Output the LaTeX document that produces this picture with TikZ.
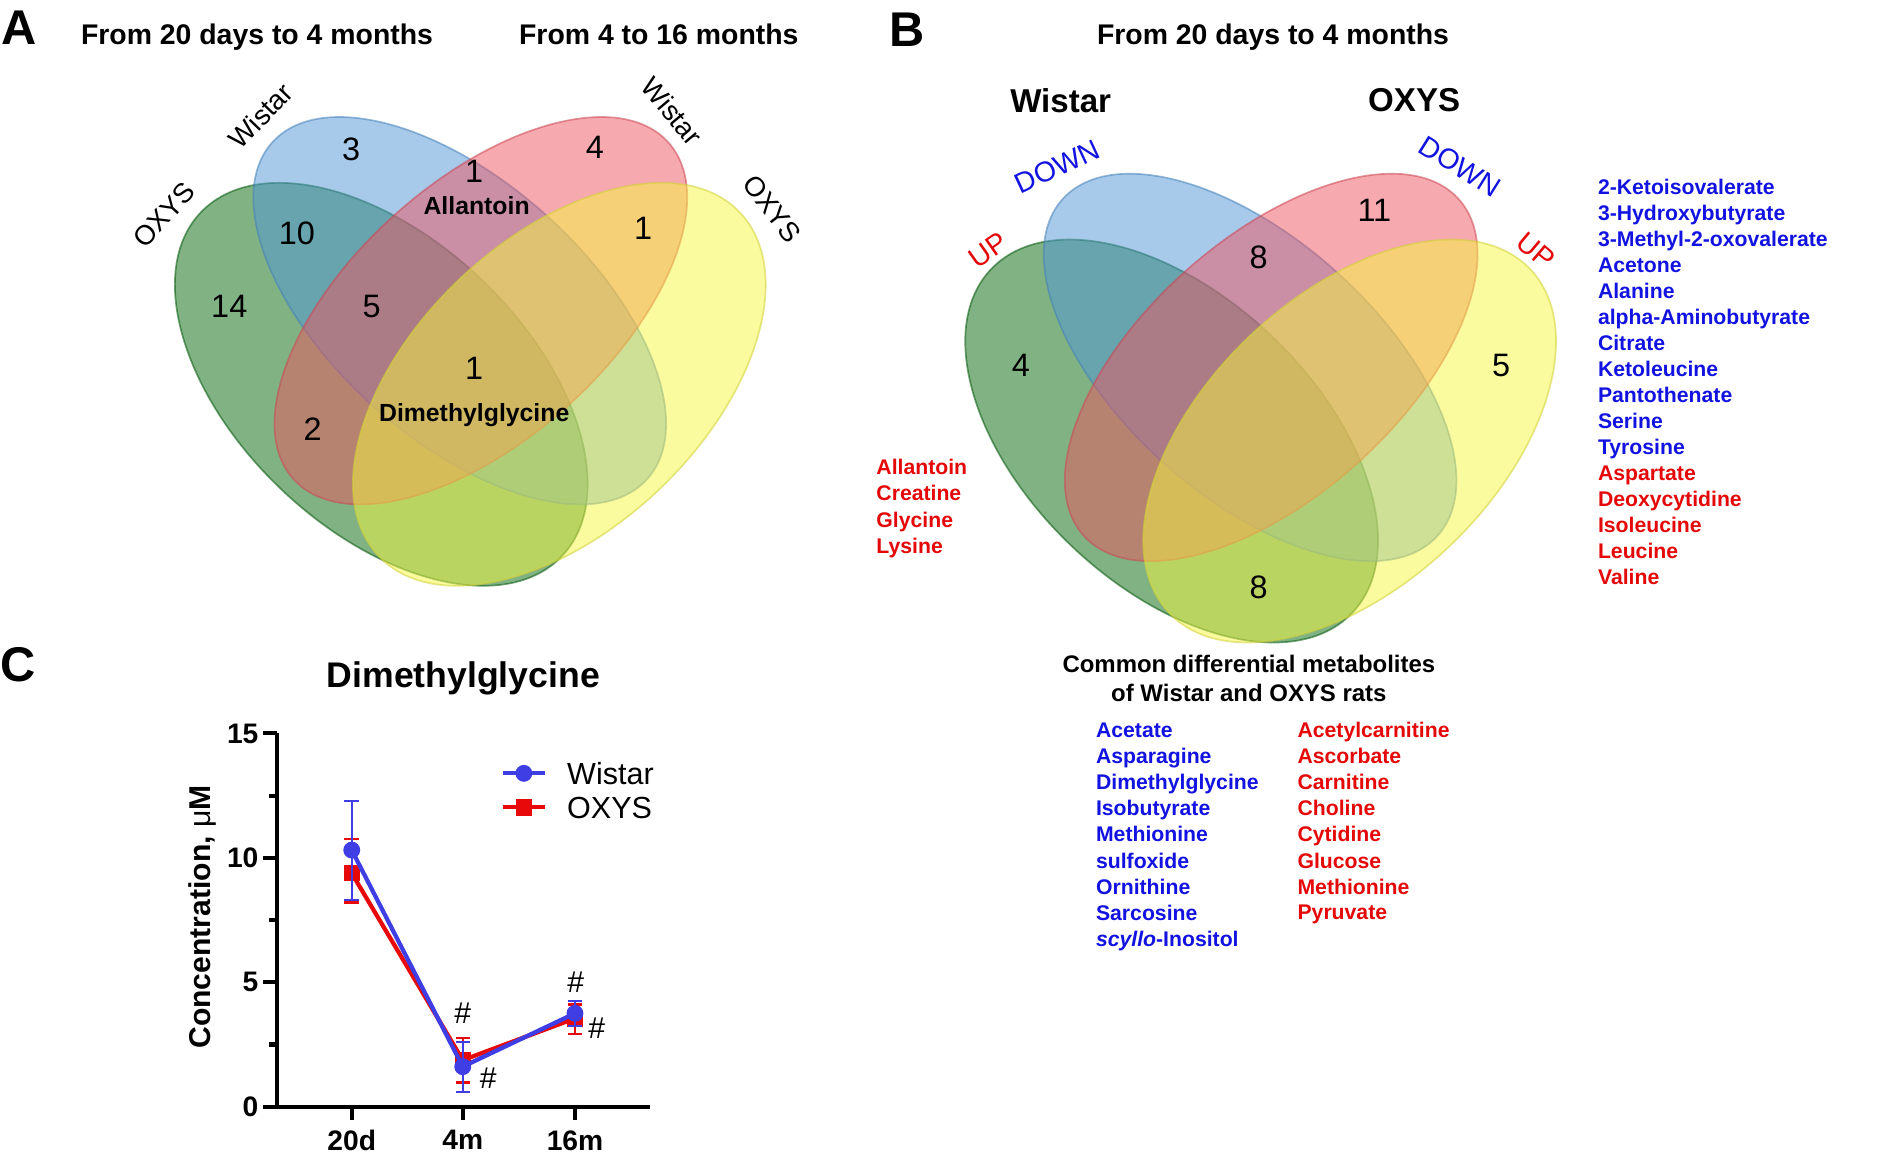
\documentclass[tikz,border=0pt]{standalone}
\usepackage{fontspec}
\setmainfont{Liberation Sans}
\usetikzlibrary{positioning, calc}

\definecolor{setblue}{RGB}{80,150,215}
\definecolor{setred}{RGB}{238,84,96}
\definecolor{setgreen}{RGB}{2,102,10}
\definecolor{setyellow}{RGB}{246,246,64}
\definecolor{upred}{RGB}{228,8,8}
\definecolor{downblue}{RGB}{18,18,225}
\definecolor{wistarblue}{RGB}{62,62,228}
\definecolor{oxysred}{RGB}{232,10,10}

\begin{document}
\begin{tikzpicture}[
    x=0.02cm, y=-0.02cm,
    every node/.style={inner sep=0pt, text depth=0pt},
    letter/.style={font=\fontsize{23}{25}\selectfont\bfseries}, % panel letters
    head/.style={font=\fontsize{13.4}{15}\selectfont\bfseries},
    setname/.style={font=\fontsize{13}{15}\selectfont},
    count/.style={font=\fontsize{15.3}{17}\selectfont},
    shared/.style={font=\fontsize{11.7}{13}\selectfont\bfseries},
    strain/.style={font=\fontsize{15.6}{17}\selectfont\bfseries},
    trend/.style={font=\fontsize{13.4}{15}\selectfont},
    metab/.style={font=\fontsize{10}{12}\selectfont\bfseries, anchor=west},
    vset/.style={fill=#1, fill opacity=0.5, draw=#1!85!black, draw opacity=0.55, line width=0.8pt}, % one Venn set
    axis/.style={line width=1.9pt},
    ticklab/.style={font=\fontsize{13.3}{15}\selectfont\bfseries},
    errbar/.style={draw=#1, line width=1.1pt},
    series/.style={draw=#1, line width=2pt, line join=round},
    dotmark/.style={circle, fill=#1, minimum size=0.28cm},
    boxmark/.style={rectangle, fill=#1, minimum size=0.27cm},
    hash/.style={font=\fontsize{14.2}{16}\selectfont}
]
    \useasboundingbox (0,0) rectangle (1568,963);

    % === Venn ellipses (panel A, then the same four shifted for panel B) ===
    \foreach \dx/\dy in {0/0, 655/47} {
        \begin{scope}[shift={(\dx,\dy)}]
            \path[vset=setgreen, shift={(316,318.5)}, rotate=-43.6] (0,0) ellipse [x radius=206.6, y radius=120.2];
            \path[vset=setblue, shift={(381,257.5)}, rotate=-41.9] (0,0) ellipse [x radius=208.8, y radius=106.8];
            \path[vset=setred, shift={(398.5,257.5)}, rotate=41.9] (0,0) ellipse [x radius=208.8, y radius=106.8];
            \path[vset=setyellow, shift={(463.5,318.5)}, rotate=43.6] (0,0) ellipse [x radius=206.6, y radius=120.2];
        \end{scope}
    }

    % === Panel A ===
    \node[letter] (lettA) at (16,23) {A};
    \node[head] (headA1) at (213,28) {From 20 days to 4 months};
    \node[head] (headA2) at (546,28) {From 4 to 16 months};
    \node[setname, rotate=46] (wisA1) at (216,96) {Wistar};
    \node[setname, rotate=48] (oxyA1) at (136,178) {OXYS};
    \node[setname, rotate=-50] (wisA2) at (557,92) {Wistar};
    \node[setname, rotate=-52] (oxyA2) at (640,173) {OXYS};
    \foreach \px/\py/\n [count=\i] in {291/124/3, 393/142/1, 493/122/4, 246/193/10, 533/189/1, 190/254/14, 308/254/5, 393/305/1, 259/356/2}
        \node[count] (cntA\i) at (\px,\py) {\n};
    \node[shared] (allA) at (395,170) {Allantoin};
    \node[shared] (dmgA) at (393,342) {Dimethylglycine};

    % === Panel B ===
    \node[letter] (lettB) at (752,25) {B};
    \node[head] (headB) at (1055,28) {From 20 days to 4 months};
    \node[strain] (wisB) at (879,83) {Wistar};
    \node[strain] (oxyB) at (1172,83) {OXYS};
    \node[trend, downblue, rotate=25] (downB1) at (876,138) {DOWN};
    \node[trend, downblue, rotate=-32] (downB2) at (1210,138) {DOWN};
    \node[trend, upred, rotate=35] (upB1) at (819,207) {UP};
    \node[trend, upred, rotate=-40] (upB2) at (1273,208) {UP};
    \foreach \px/\py/\n [count=\i] in {1139/174/11, 1043/213/8, 846/303/4, 1244/303/5, 1043/487/8}
        \node[count] (cntB\i) at (\px,\py) {\n};

    % metabolite lists
    \foreach \m [count=\i] in {Allantoin, Creatine, Glycine, Lysine}
        \node[metab, upred] (upL\i) at (726,365.2+21.8*\i) {\m};
    \foreach \m/\c [count=\i] in {2-Ketoisovalerate/downblue, 3-Hydroxybutyrate/downblue,
        3-Methyl-2-oxovalerate/downblue, Acetone/downblue, Alanine/downblue,
        alpha-Aminobutyrate/downblue, Citrate/downblue, Ketoleucine/downblue,
        Pantothenate/downblue, Serine/downblue, Tyrosine/downblue, Aspartate/upred,
        Deoxycytidine/upred, Isoleucine/upred, Leucine/upred, Valine/upred}
        \node[metab, text=\c] (sideR\i) at (1324,133.47+21.53*\i) {\m};

    \node[font=\fontsize{11.3}{13}\selectfont\bfseries] (common1) at (1035,550) {Common differential metabolites};
    \node[font=\fontsize{11.3}{13}\selectfont\bfseries] (common2) at (1035,574) {of Wistar and OXYS rats};
    \foreach \m [count=\i] in {Acetate, Asparagine, Dimethylglycine, Isobutyrate, Methionine,
        sulfoxide, Ornithine, Sarcosine, \textit{scyllo}-Inositol}
        \node[metab, downblue] (comB\i) at (908,583.4+21.6*\i) {\m};
    \foreach \m [count=\i] in {Acetylcarnitine, Ascorbate, Carnitine, Choline, Cytidine,
        Glucose, Methionine, Pyruvate}
        \node[metab, upred] (comR\i) at (1075,583.4+21.6*\i) {\m};

    % === Panel C ===
    \node[letter] (lettC) at (15,551) {C};
    \node[font=\fontsize{16.8}{18}\selectfont\bfseries] (titleC) at (384,559) {Dimethylglycine};
    \node[font=\fontsize{14.2}{16}\selectfont\bfseries, rotate=90] (ylab) at (165,760) {Concentration, {\mdseries μ}M};

    % axes
    \coordinate (origin) at (229.3,917.2);
    \coordinate (ytop) at (229.3,607.7);
    \coordinate (xend) at (538.7,917.2);
    \draw[axis] (ytop) -- (origin) -- (xend);
    \foreach \v in {0,5,10,15} {
        \draw[axis] (229.3,917.2-20.63*\v) -- ++(-11,0);
        \node[ticklab, anchor=east] (yl\v) at (214.5,917.2-20.63*\v) {\v};
    }
    \foreach \v in {2.5,7.5,12.5}
        \draw[axis] (229.3,917.2-20.63*\v) -- ++(-6,0);
    \foreach \xx/\lab in {291.5/20d, 383.5/4m, 476.5/16m} {
        \draw[axis] (\xx,917.2) -- ++(0,11);
        \node[ticklab] (xl\lab) at (\xx,945) {\lab};
    }

    % data points
    \coordinate (w1) at (291.5,704.5);
    \coordinate (w2) at (383.5,884.0);
    \coordinate (w3) at (476.5,839.8);
    \coordinate (o1) at (291.5,723.7);
    \coordinate (o2) at (383.5,878.6);
    \coordinate (o3) at (476.5,844.0);

    % OXYS first, Wistar on top
    \foreach \xx/\lo/\hi in {291.5/748.0/695.4, 383.5/897.0/860.5, 476.5/857.0/832.6}
        \draw[errbar=oxysred] (\xx,\lo) -- (\xx,\hi) (\xx-6,\lo) -- (\xx+6,\lo) (\xx-6,\hi) -- (\xx+6,\hi);
    \draw[series=oxysred] (o1) -- (o2) -- (o3);
    \foreach \k in {1,2,3}
        \node[boxmark=oxysred] (om\k) at (o\k) {};

    \foreach \xx/\lo/\hi in {291.5/745.9/663.9, 383.5/904.8/863.6, 476.5/850.2/829.5}
        \draw[errbar=wistarblue] (\xx,\lo) -- (\xx,\hi) (\xx-6,\lo) -- (\xx+6,\lo) (\xx-6,\hi) -- (\xx+6,\hi);
    \draw[series=wistarblue] (w1) -- (w2) -- (w3);
    \foreach \k in {1,2,3}
        \node[dotmark=wistarblue] (wm\k) at (w\k) {};

    % significance marks
    \node[hash] (hashA) at (383.5,839.8) {\#};
    \node[hash] (hashB) at (404.7,893.7) {\#};
    \node[hash] (hashC) at (477.1,813.6) {\#};
    \node[hash] (hashD) at (494.5,852.2) {\#};

    % legend
    \coordinate (lgw1) at (416.6,640.9);
    \coordinate (lgw2) at (451.7,640.9);
    \coordinate (lgo1) at (416.6,669.1);
    \coordinate (lgo2) at (451.7,669.1);
    \draw[series=wistarblue] (lgw1) -- (lgw2);
    \node[dotmark=wistarblue] (lgwm) at ($(lgw1)!0.5!(lgw2)$) {};
    \draw[series=oxysred] (lgo1) -- (lgo2);
    \node[boxmark=oxysred] (lgom) at ($(lgo1)!0.5!(lgo2)$) {};
    \node[font=\fontsize{14.4}{16}\selectfont, anchor=west] (lgwt) at (469.7,640.9) {Wistar};
    \node[font=\fontsize{14.4}{16}\selectfont, anchor=west] (lgot) at (469.7,669.1) {OXYS};

\end{tikzpicture}
\end{document}
